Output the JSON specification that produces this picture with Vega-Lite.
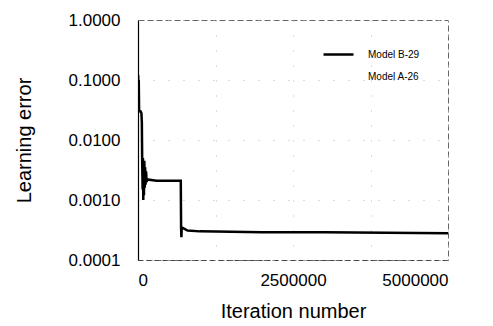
{
  "$schema": "https://vega.github.io/schema/vega-lite/v6.json",
  "width": 310,
  "height": 240,
  "autosize": {"type": "none"},
  "padding": {"left": 138, "top": 20, "right": 45, "bottom": 66},
  "background": "white",
  "config": {
    "font": "Liberation Sans",
    "view": {"stroke": "#666", "strokeDash": [6, 3], "strokeWidth": 1}
  },
  "data": {
    "values": [
      {"model": "Model A-26", "iter": 5000000, "err": 0.00028},
      {"model": "Model B-29", "iter": 0, "err": 0.06},
      {"model": "Model B-29", "iter": 3000, "err": 0.12},
      {"model": "Model B-29", "iter": 8000, "err": 0.05},
      {"model": "Model B-29", "iter": 12000, "err": 0.1},
      {"model": "Model B-29", "iter": 18000, "err": 0.03},
      {"model": "Model B-29", "iter": 40000, "err": 0.03},
      {"model": "Model B-29", "iter": 55000, "err": 0.028},
      {"model": "Model B-29", "iter": 62000, "err": 0.02},
      {"model": "Model B-29", "iter": 68000, "err": 0.004},
      {"model": "Model B-29", "iter": 75000, "err": 0.0015},
      {"model": "Model B-29", "iter": 80000, "err": 0.005},
      {"model": "Model B-29", "iter": 85000, "err": 0.001},
      {"model": "Model B-29", "iter": 90000, "err": 0.004},
      {"model": "Model B-29", "iter": 96000, "err": 0.0012},
      {"model": "Model B-29", "iter": 102000, "err": 0.0045},
      {"model": "Model B-29", "iter": 108000, "err": 0.0016},
      {"model": "Model B-29", "iter": 115000, "err": 0.0035},
      {"model": "Model B-29", "iter": 122000, "err": 0.0018},
      {"model": "Model B-29", "iter": 130000, "err": 0.003},
      {"model": "Model B-29", "iter": 140000, "err": 0.002},
      {"model": "Model B-29", "iter": 150000, "err": 0.0022},
      {"model": "Model B-29", "iter": 300000, "err": 0.0021},
      {"model": "Model B-29", "iter": 500000, "err": 0.0021},
      {"model": "Model B-29", "iter": 690000, "err": 0.0021},
      {"model": "Model B-29", "iter": 695000, "err": 0.00035},
      {"model": "Model B-29", "iter": 700000, "err": 0.00024},
      {"model": "Model B-29", "iter": 705000, "err": 0.00035},
      {"model": "Model B-29", "iter": 800000, "err": 0.00031},
      {"model": "Model B-29", "iter": 1000000, "err": 0.0003},
      {"model": "Model B-29", "iter": 2000000, "err": 0.00029},
      {"model": "Model B-29", "iter": 3000000, "err": 0.00029},
      {"model": "Model B-29", "iter": 4000000, "err": 0.000285},
      {"model": "Model B-29", "iter": 5000000, "err": 0.00028}
    ]
  },
  "mark": {"type": "line", "strokeWidth": 2.5, "clip": true},
  "encoding": {
    "x": {
      "field": "iter",
      "type": "quantitative",
      "scale": {"domain": [0, 5000000], "nice": false},
      "axis": {
        "title": "Iteration number",
        "values": [0, 1250000, 2500000, 3750000, 5000000],
        "format": "d",
        "labelExpr": "datum.value % 2500000 == 0 ? datum.label : ''",
        "labelFontSize": 17,
        "labelColor": "#000",
        "labelPadding": 12,
        "ticks": false,
        "domainColor": "#444",
        "domainDash": [4, 4],
        "grid": true,
        "gridColor": "#bbb",
        "gridDash": [1, 14],
        "titleFontSize": 20,
        "titleFontWeight": "normal",
        "titleColor": "#000",
        "titlePadding": 13
      }
    },
    "y": {
      "field": "err",
      "type": "quantitative",
      "scale": {"type": "log", "domain": [0.0001, 1], "nice": false},
      "axis": {
        "title": "Learning error",
        "values": [0.0001, 0.001, 0.01, 0.1, 1],
        "format": ".4f",
        "labelFontSize": 17,
        "labelColor": "#000",
        "labelPadding": 18,
        "ticks": false,
        "domainColor": "#000",
        "domainWidth": 1.2,
        "grid": true,
        "gridColor": "#bbb",
        "gridDash": [1, 14],
        "titleFontSize": 20,
        "titleFontWeight": "normal",
        "titleColor": "#000",
        "titlePadding": 34
      }
    },
    "color": {
      "field": "model",
      "type": "nominal",
      "scale": {"domain": ["Model B-29", "Model A-26"], "range": ["#000000", "#ffffff"]},
      "legend": {
        "title": null,
        "orient": "none",
        "legendX": 184,
        "legendY": 18,
        "symbolType": "stroke",
        "symbolSize": 900,
        "symbolStrokeWidth": 2.5,
        "labelFontSize": 10,
        "labelColor": "#000",
        "labelOffset": 13,
        "rowPadding": -10
      }
    }
  }
}
